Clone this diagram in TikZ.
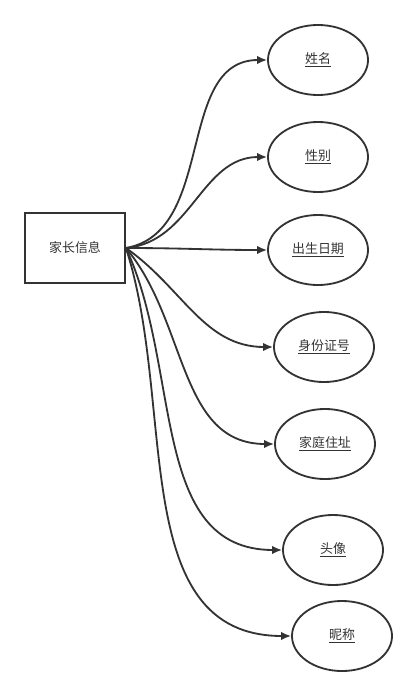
\documentclass[tikz,border=0pt]{standalone}
\usepackage{fontspec}
\setmainfont{Noto Sans CJK SC}
\usetikzlibrary{arrows.meta,shapes.geometric}

\definecolor{inkgray}{HTML}{333333}

\tikzset{
	entitybox/.style={draw=inkgray, line width=1.3pt, minimum width=2.5cm, minimum height=1.75cm, inner sep=0pt, text=inkgray},
	attrnode/.style={draw=inkgray, ellipse, line width=1.3pt, minimum width=2.5cm, minimum height=1.75cm, inner sep=0pt, text=inkgray},
	link/.style={->, draw=inkgray, line width=1.3pt}
}

\begin{document}
\begin{tikzpicture}[>={Latex[length=7pt,width=6pt]}, x=0.025cm, y=-0.025cm, font=\fontsize{9.2}{11}\selectfont]

\useasboundingbox (0,0) rectangle (417,696);

\node[entitybox] (info) at (75,248) {家长信息};

\foreach \name/\label/\x/\y/\o in {name/姓名/318/60/10, sex/性别/318/157/5, birth/出生日期/318/250/0, idno/身份证号/324/347/-35, addr/家庭住址/325/444/-50, avatar/头像/333/550/-65, nick/昵称/342/636/-72}
{
	\node[attrnode] (\name) at (\x,\y) {\underline{\label}};
	\draw[link] (info.east) to[out=\o, in=180] (\name.west);
}

\end{tikzpicture}
\end{document}
